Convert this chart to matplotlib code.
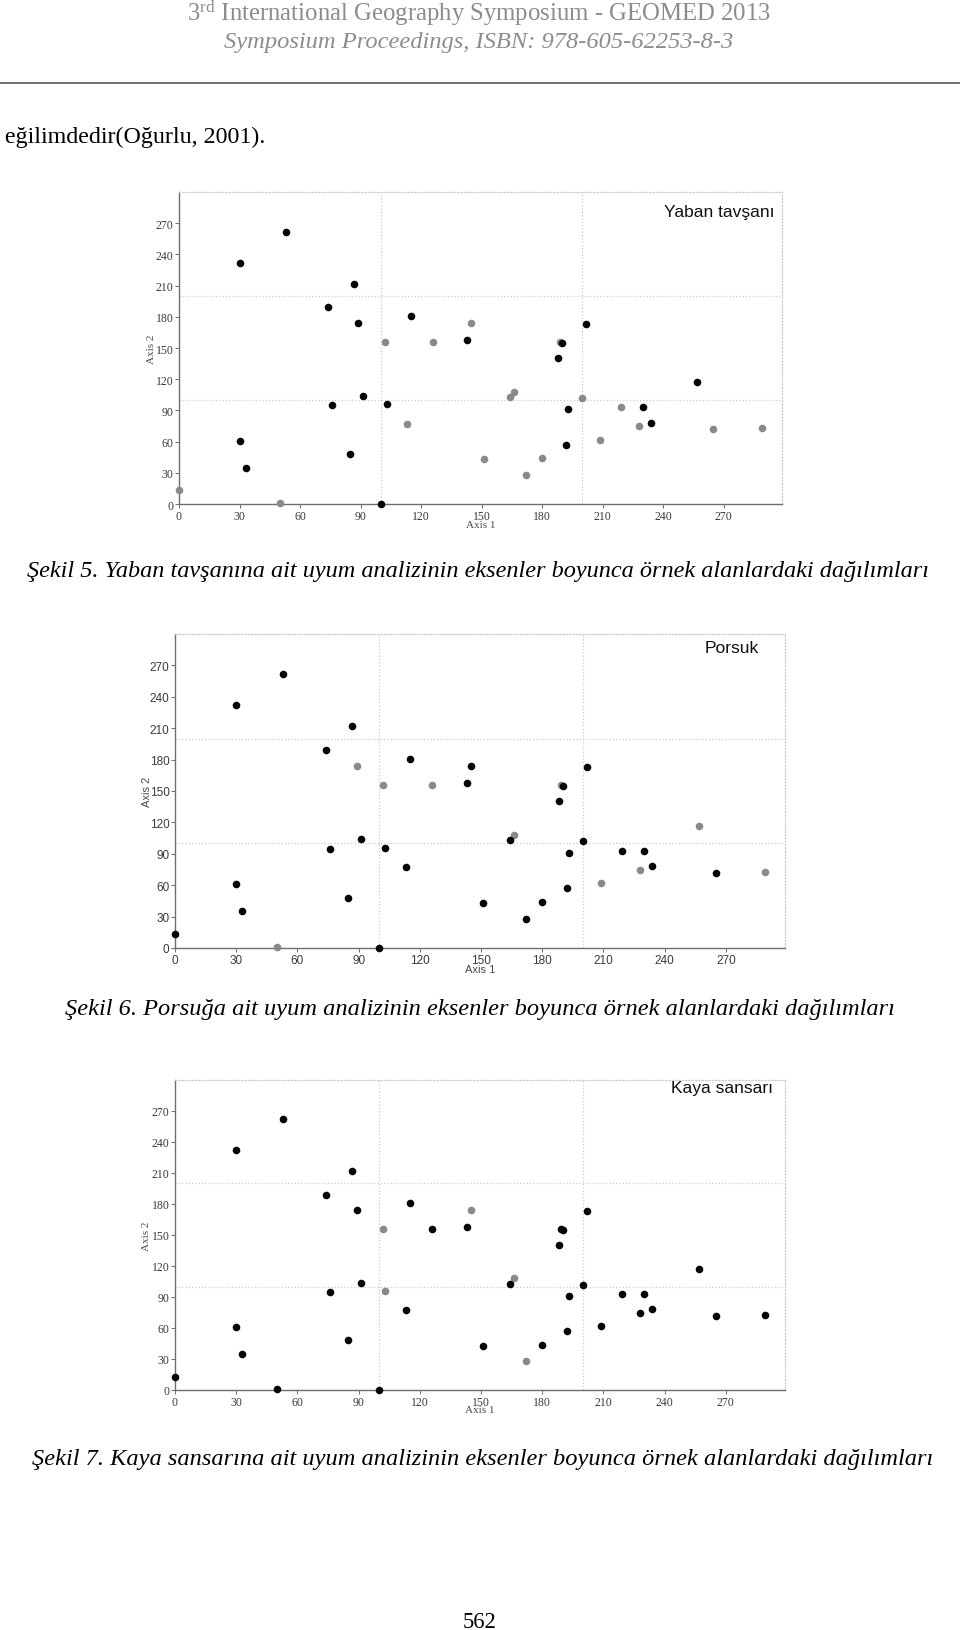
import matplotlib
matplotlib.use('Agg')
import matplotlib.pyplot as plt

# ========== DATA ==========
# site scores along the two axes (same sites in every panel)
axis1 = [0, 30, 53, 87, 74, 89, 115, 102, 126, 145, 143, 189, 190, 188, 202, 257,
         91, 76, 103, 164, 166, 200, 193, 219, 230, 113, 228, 234, 265, 289, 209,
         30, 85, 192, 33, 151, 180, 172, 50, 100]
axis2 = [13, 232, 262, 212, 189, 174, 181, 156, 156, 174, 158, 156, 155, 140, 173, 117,
         104, 95, 96, 103, 108, 102, 91, 93, 93, 77, 75, 78, 72, 73, 62,
         61, 48, 57, 35, 43, 44, 28, 1, 0]

# 1 = grey point (species absent), 0 = black point (species present)
yaban_grey = [1, 0, 0, 0, 0, 0, 0, 1, 1, 1, 0, 1, 0, 0, 0, 0,
              0, 0, 0, 1, 1, 1, 0, 1, 0, 1, 1, 0, 1, 1, 1,
              0, 0, 0, 0, 1, 1, 1, 1, 0]
porsuk_grey = [0, 0, 0, 0, 0, 1, 0, 1, 1, 0, 0, 1, 0, 0, 0, 1,
               0, 0, 0, 0, 1, 0, 0, 0, 0, 0, 1, 0, 0, 1, 1,
               0, 0, 0, 0, 0, 0, 0, 1, 0]
kaya_grey = [0, 0, 0, 0, 0, 0, 0, 1, 0, 1, 0, 0, 0, 0, 0, 0,
             0, 0, 1, 0, 1, 0, 0, 0, 0, 0, 0, 0, 0, 0, 0,
             0, 0, 0, 0, 0, 0, 1, 0, 0]

ticks = list(range(0, 271, 30))

# ========== PAGE ==========
W, H = 960, 1631
fig = plt.figure(figsize=(W / 100, H / 100), dpi=100)
plt.rcParams['mathtext.fontset'] = 'custom'
plt.rcParams['mathtext.rm'] = 'Liberation Serif'
plt.rcParams['mathtext.it'] = 'Liberation Serif:italic'
renderer = fig.canvas.get_renderer()


def page_text(x0, x1, y, s, **kw):
    # place text by its left edge / baseline in pixels, scale font to span x0..x1
    t = fig.text(x0 / W, 1 - y / H, s, ha='left', va='baseline', **kw)
    w = t.get_window_extent(renderer).width
    t.set_fontsize(t.get_fontsize() * (x1 - x0) / w)
    return t


def draw_panel(rect, grey, title, title_pos, family):
    ax = fig.add_axes(rect)
    xs_g = [x for x, g in zip(axis1, grey) if g]
    ys_g = [y for y, g in zip(axis2, grey) if g]
    xs_k = [x for x, g in zip(axis1, grey) if not g]
    ys_k = [y for y, g in zip(axis2, grey) if not g]
    ax.scatter(xs_g, ys_g, s=30, color='#8a8a8a', linewidths=0, zorder=3, clip_on=False)
    ax.scatter(xs_k, ys_k, s=30, color='#050505', linewidths=0, zorder=4, clip_on=False)
    ax.set_xlim(0, 299)
    ax.set_ylim(0, 300)
    ax.set_xticks(ticks)
    ax.set_yticks(ticks)
    for v in (100, 200):
        ax.axvline(v, color='#cccccc', lw=0.9, ls=':', zorder=1)
        ax.axhline(v, color='#cccccc', lw=0.9, ls=':', zorder=1)
    for side in ('left', 'bottom'):
        ax.spines[side].set_color('#6e6e6e')
        ax.spines[side].set_linewidth(1.0)
    for side in ('top', 'right'):
        ax.spines[side].set_color('#cccccc')
        ax.spines[side].set_linestyle(':')
        ax.spines[side].set_linewidth(0.9)
    ax.tick_params(direction='out', length=3, width=0.7, color='#6e6e6e',
                   labelsize=8.5, labelcolor='#3a3a3a', pad=1)
    for lab in ax.get_xticklabels() + ax.get_yticklabels():
        lab.set_family(family)
    ax.text(0.5, -0.05, 'Axis 1', transform=ax.transAxes, ha='center', va='top',
            fontsize=8, color='#4a4a4a', family=family)
    ax.text(-0.046, 0.5, 'Axis 2', transform=ax.transAxes, ha='center', va='center',
            rotation=90, fontsize=8, color='#4a4a4a', family=family)
    ax.text(title_pos[0], title_pos[1], title, transform=ax.transAxes, ha='right',
            va='center', fontsize=12.5, family='Liberation Sans', color='#111111')
    return ax


# header
page_text(187, 773, 21, '3$^{\\mathrm{rd}}$ International Geography Symposium - GEOMED 2013',
          fontsize=16, color='#8c8c8c', family='Liberation Serif')
page_text(224, 734, 48, 'Symposium Proceedings, ISBN: 978-605-62253-8-3',
          fontsize=16, color='#8c8c8c', family='Liberation Serif', style='italic')
fig.add_artist(plt.Line2D([0, 1], [1 - 84 / H, 1 - 84 / H], color='#555555', lw=1.2))
page_text(5, 266, 143, 'eğilimdedir(Oğurlu, 2001).', fontsize=15, family='Liberation Serif')

# panels (left, bottom, width, height in figure fractions)
draw_panel([179 / W, 1 - 505 / H, 603 / W, 312 / H], yaban_grey, 'Yaban tavşanı',
           (0.988, 0.939), 'Liberation Serif')
page_text(27, 931, 577,
          'Şekil 5. Yaban tavşanına ait uyum analizinin eksenler boyunca örnek alanlardaki dağılımları',
          fontsize=16, family='Liberation Serif', style='italic')

draw_panel([175 / W, 1 - 949 / H, 610 / W, 314 / H], porsuk_grey, 'Porsuk',
           (0.957, 0.958), 'Liberation Sans')
page_text(65, 892, 1015,
          'Şekil 6. Porsuğa ait uyum analizinin eksenler boyunca örnek alanlardaki dağılımları',
          fontsize=16, family='Liberation Serif', style='italic')

draw_panel([175 / W, 1 - 1391 / H, 610 / W, 310 / H], kaya_grey, 'Kaya sansarı',
           (0.980, 0.977), 'Liberation Serif')
page_text(32, 929, 1465,
          'Şekil 7. Kaya sansarına ait uyum analizinin eksenler boyunca örnek alanlardaki dağılımları',
          fontsize=16, family='Liberation Serif', style='italic')

page_text(463, 497, 1628, '562', fontsize=15, family='Liberation Serif')

fig.savefig('out.png', dpi=100)
